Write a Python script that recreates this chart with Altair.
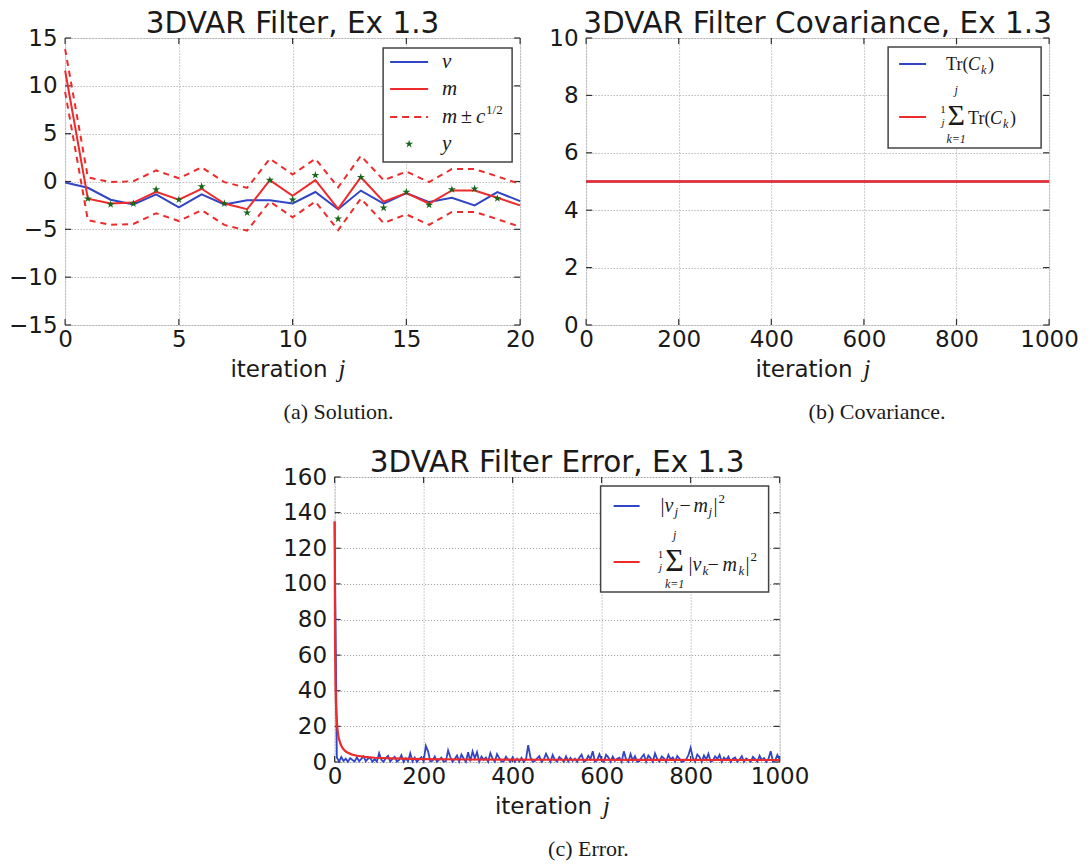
import altair as alt
import pandas as pd

# ------------------------------------------------------------------
# Data
# ------------------------------------------------------------------
# (a) Solution
sol_iter = list(range(21))
sol_truth = [-0.1, -0.66, -1.9, -2.4, -1.35, -2.7, -1.35, -2.4, -1.95, -1.95, -2.3,
             -1.1, -2.9, -0.95, -2.3, -1.2, -2.15, -1.7, -2.5, -1.1, -2.05]
sol_mean = [11.6, -1.8, -2.3, -2.2, -1.08, -1.9, -0.76, -2.3, -2.9, 0.14, -1.5,
            0.14, -2.85, 0.45, -2.1, -1.2, -2.3, -0.94, -0.94, -1.7, -2.5]
obs_iter = list(range(1, 20))
obs_vals = [-1.8, -2.4, -2.3, -0.83, -1.9, -0.52, -2.3, -3.26, 0.14, -1.9,
            0.66, -3.9, 0.45, -2.75, -1.1, -2.45, -0.83, -0.76, -1.77]
cov_level = 5.0  # c

# (b) Covariance
cov_iter = [0, 1000]
cov_trace = [5.0, 5.0]
cov_avg = [5.0, 5.0]

# (c) Error
err_iter = list(range(0, 1001, 5))
err_vals = [
    135, 2.5, 0.2, 2.8, 0.6, 1.9, 0.1, 2.2, 1.1, 0.3, 2.6, 0.4, 1.7, 3.1, 0.5, 1.8, 2.4, 0.2, 1.6, 0.2,
    5.0, 1.3, 0.1, 2.2, 3.4, 0.3, 1.7, 2.9, 0.2, 1.2, 3.8, 0.1, 2.1, 0.4, 4.8, 0.3, 2.5, 0.1, 1.6, 2.7,
    0.3, 9.0, 6.0, 0.3, 0.7, 3.1, 0.2, 1.4, 2.4, 0.2, 0.5, 6.5, 2.8, 0.1, 1.7, 3.6, 0.2, 4.2, 2.0, 0.1,
    5.5, 0.4, 6.0, 2.1, 5.5, 0.2, 3.0, 1.2, 2.5, 0.1, 5.0, 1.9, 0.2, 4.5, 2.2, 0.3, 0.4, 3.0, 1.3, 0.1,
    2.6, 0.1, 1.8, 0.3, 2.4, 0.1, 1.5, 9.5, 2.7, 0.2, 0.6, 2.0, 3.3, 0.1, 1.4, 4.6, 2.1, 0.1, 3.9, 1.2,
    0.2, 2.8, 1.6, 0.1, 3.2, 0.3, 2.3, 0.6, 1.9, 0.1, 2.5, 4.1, 0.2, 0.8, 3.5, 1.7, 6.0, 0.2, 0.9, 4.4,
    1.3, 0.1, 4.0, 2.6, 0.2, 3.0, 0.7, 1.8, 2.4, 0.1, 6.0, 1.5, 0.2, 4.5, 0.8, 3.3, 0.1, 0.6, 2.7, 4.2,
    0.2, 3.6, 2.2, 0.1, 4.8, 1.6, 0.2, 3.1, 2.0, 0.1, 4.0, 1.4, 2.6, 0.2, 3.4, 1.8, 0.1, 0.6, 1.5, 3.8,
    8.0, 2.4, 0.2, 4.2, 2.8, 0.1, 3.7, 1.3, 4.6, 0.2, 0.8, 3.2, 1.6, 4.0, 0.1, 2.5, 1.1, 3.0, 0.1, 1.9,
    2.6, 0.2, 1.4, 3.3, 0.1, 2.0, 1.2, 0.1, 2.9, 1.6, 0.2, 3.5, 1.0, 2.2, 0.1, 1.8, 6.0, 0.2, 0.9, 4.0,
    1.5,
]
avg_iter = [0, 1, 2, 3, 4, 6, 8, 10, 13, 16, 20, 25, 30, 38, 50, 68, 90, 128, 200, 300, 500, 700, 1000]
avg_vals = [135, 66, 44, 33, 27, 19.5, 15.3, 12.7, 10.2, 8.6, 7.1, 5.9, 5.2, 4.3, 3.5, 2.9, 2.4,
            2.0, 1.6, 1.4, 1.25, 1.18, 1.12]

# tick values
a_xticks = [0, 5, 10, 15, 20]
a_yticks = [-15, -10, -5, 0, 5, 10, 15]
b_xticks = [0, 200, 400, 600, 800, 1000]
b_yticks = [0, 2, 4, 6, 8, 10]
c_xticks = [0, 200, 400, 600, 800, 1000]
c_yticks = [0, 20, 40, 60, 80, 100, 120, 140, 160]

# ------------------------------------------------------------------
# Style
# ------------------------------------------------------------------
BLUE = "#3145c6"
RED = "#ee2b2b"
GREEN = "#17661a"
FRAME = "#333333"
TXT = "#1a1a1a"
SANS = "DejaVu Sans"
SERIF = "Liberation Serif"
TICK_FS = 23
TITLE_FS = 29.5
STAR = ("M0,-1L0.2245,-0.309L0.951,-0.309L0.363,0.118L0.588,0.809L0,0.382"
        "L-0.588,0.809L-0.363,0.118L-0.951,-0.309L-0.2245,-0.309Z")

ONE = pd.DataFrame({"k": [0]})


def text(s, x, y, size, font=SERIF, style="normal", align="left", baseline="middle", color=TXT):
    return alt.Chart(ONE).mark_text(
        text=s, font=font, fontSize=size, fontStyle=style, align=align,
        baseline=baseline, color=color
    ).encode(x=alt.value(x), y=alt.value(y))


def box(x0, x1, y0, y1):
    return alt.Chart(ONE).mark_rect(fill="white", stroke="#444444", strokeWidth=1.5).encode(
        x=alt.value(x0), x2=alt.value(x1), y=alt.value(y0), y2=alt.value(y1))


def swatch(x0, x1, y, color, dash=None, width=2):
    kw = dict(color=color, strokeWidth=width)
    if dash:
        kw["strokeDash"] = dash
    return alt.Chart(ONE).mark_rule(**kw).encode(x=alt.value(x0), x2=alt.value(x1), y=alt.value(y))


def make_axis(vals, pad):
    return alt.Axis(values=vals, title=None, grid=True, ticks=False, domain=False,
                    labelFont=SANS, labelFontSize=TICK_FS, labelColor=TXT, labelPadding=pad,
                    labelFlush=False, labelOverlap=False, gridColor="#9a9a9a",
                    gridDash=[1, 2], gridWidth=1, format="d")


class Panel:
    def __init__(self, xdom, ydom, xticks, yticks, W, H):
        self.xs = alt.Scale(domain=xdom, nice=False)
        self.ys = alt.Scale(domain=ydom, nice=False)
        self.xticks, self.yticks = xticks, yticks
        self.W, self.H = W, H

    def X(self, f):
        return alt.X(f, scale=self.xs, axis=make_axis(self.xticks, 3))

    def Y(self, f):
        return alt.Y(f, scale=self.ys, axis=make_axis(self.yticks, 8))

    def inner_ticks(self, L=6):
        xt = alt.Chart(pd.DataFrame({"t": self.xticks}))
        yt = alt.Chart(pd.DataFrame({"t": self.yticks}))
        kw = dict(color=FRAME, strokeWidth=1.2)
        W, H = self.W, self.H
        return [
            xt.mark_rule(**kw).encode(x=self.X("t:Q"), y=alt.value(H), y2=alt.value(H - L)),
            xt.mark_rule(**kw).encode(x=self.X("t:Q"), y=alt.value(0), y2=alt.value(L)),
            yt.mark_rule(**kw).encode(y=self.Y("t:Q"), x=alt.value(0), x2=alt.value(L)),
            yt.mark_rule(**kw).encode(y=self.Y("t:Q"), x=alt.value(W - L), x2=alt.value(W)),
        ]

    def xlabel_and_caption(self, caption):
        cx, H = self.W / 2, self.H
        return [
            text("iteration", cx + 35, H + 52, 23, font=SANS, align="right", baseline="alphabetic"),
            text("j", cx + 46, H + 52, 25, style="italic", baseline="alphabetic"),
            text(caption, cx - 9, H + 94, 22, baseline="alphabetic"),
        ]


def title(s):
    return alt.Title(s, font=SANS, fontSize=TITLE_FS, fontWeight="normal", color=TXT,
                     anchor="middle", baseline="alphabetic", offset=7, dy=42, frame="group")


def sigma_block(cx, cy, frac_x, size):
    """Big summation sign with limits and a small 1/j fraction in front."""
    return [
        text("1", frac_x, cy - 6, 11, align="center"),
        text("j", frac_x, cy + 7, 11, style="italic", align="center"),
        text("\u03a3", cx, cy, size, align="center"),
        text("j", cx, cy - 26, 12, style="italic", align="center"),
        text("k=1", cx, cy + 23, 12, style="italic", align="center"),
    ]


# ------------------------------------------------------------------
# Panel (a)
# ------------------------------------------------------------------
pa = Panel([0, 20], [-15, 15], a_xticks, a_yticks, 455, 287)
c_half = cov_level ** 0.5
sol_df = pd.DataFrame({
    "j": sol_iter, "v": sol_truth, "m": sol_mean,
    "up": [m + c_half for m in sol_mean], "lo": [m - c_half for m in sol_mean],
})
obs_df = pd.DataFrame({"j": obs_iter, "y": obs_vals})
sb = alt.Chart(sol_df)
a_layers = pa.inner_ticks() + [
    sb.mark_line(color=BLUE, strokeWidth=2).encode(x=pa.X("j:Q"), y=pa.Y("v:Q")),
    sb.mark_line(color=RED, strokeWidth=2).encode(x=pa.X("j:Q"), y=pa.Y("m:Q")),
    sb.mark_line(color=RED, strokeWidth=2, strokeDash=[6, 5]).encode(x=pa.X("j:Q"), y=pa.Y("up:Q")),
    sb.mark_line(color=RED, strokeWidth=2, strokeDash=[6, 5]).encode(x=pa.X("j:Q"), y=pa.Y("lo:Q")),
    alt.Chart(obs_df).mark_point(shape=STAR, filled=True, color=GREEN, size=70, opacity=1).encode(
        x=pa.X("j:Q"), y=pa.Y("y:Q")),
]
a_layers += [
    box(318, 447, 10, 124),
    swatch(325, 363, 24, BLUE),
    swatch(325, 363, 51, RED),
    swatch(325, 363, 79, RED, dash=[7, 5]),
    alt.Chart(ONE).mark_point(shape=STAR, filled=True, color=GREEN, size=70, opacity=1).encode(
        x=alt.value(344), y=alt.value(106)),
    text("v", 377, 24, 21, style="italic"),
    text("m", 377, 51, 21, style="italic"),
    text("m", 377, 79, 21, style="italic"),
    text("\u00b1", 396, 79, 20),
    text("c", 411, 79, 21, style="italic"),
    text("1/2", 421, 72, 13),
    text("y", 377, 106, 21, style="italic"),
]
a_layers += pa.xlabel_and_caption("(a)  Solution.")
panel_a = alt.layer(*a_layers).properties(width=pa.W, height=pa.H,
                                          title=title("3DVAR Filter, Ex 1.3"))

# ------------------------------------------------------------------
# Panel (b)
# ------------------------------------------------------------------
pb = Panel([0, 1000], [0, 10], b_xticks, b_yticks, 463, 287)
cov_df = pd.DataFrame({"j": cov_iter, "tr": cov_trace, "avg": cov_avg})
cb = alt.Chart(cov_df)
b_layers = pb.inner_ticks() + [
    cb.mark_line(color=BLUE, strokeWidth=2).encode(x=pb.X("j:Q"), y=pb.Y("tr:Q")),
    cb.mark_line(color=RED, strokeWidth=2.4).encode(x=pb.X("j:Q"), y=pb.Y("avg:Q")),
]
b_layers += [
    box(302, 455, 9, 110),
    swatch(313, 340, 26, BLUE),
    swatch(313, 340, 79, RED),
    text("Tr(", 360, 27, 18),
    text("C", 382, 27, 18, style="italic"),
    text("k", 395, 32, 12, style="italic"),
    text(")", 402, 27, 18),
]
b_layers += sigma_block(370, 78, 357, 30)
b_layers += [
    text("Tr(", 382, 81, 18),
    text("C", 404, 81, 18, style="italic"),
    text("k", 417, 86, 12, style="italic"),
    text(")", 424, 81, 18),
]
b_layers += pb.xlabel_and_caption("(b)  Covariance.")
panel_b = alt.layer(*b_layers).properties(width=pb.W, height=pb.H,
                                          title=title("3DVAR Filter Covariance, Ex 1.3"))

# ------------------------------------------------------------------
# Panel (c)
# ------------------------------------------------------------------
pc = Panel([0, 1000], [0, 160], c_xticks, c_yticks, 445, 285)
err_df = pd.DataFrame({"j": err_iter, "e": err_vals})
avg_df = pd.DataFrame({"j": avg_iter, "a": avg_vals})
c_layers = pc.inner_ticks() + [
    alt.Chart(err_df).mark_line(color=BLUE, strokeWidth=1.8).encode(x=pc.X("j:Q"), y=pc.Y("e:Q")),
    alt.Chart(avg_df).mark_line(color=RED, strokeWidth=2.2).encode(x=pc.X("j:Q"), y=pc.Y("a:Q")),
]
c_layers += [
    box(266, 434, 9, 115),
    swatch(279, 305, 29, BLUE),
    swatch(279, 305, 85, RED),
    text("|", 326, 29, 20),
    text("v", 330, 29, 20, style="italic"),
    text("j", 340, 35, 13, style="italic"),
    text("\u2212", 345, 29, 20),
    text("m", 359, 29, 20, style="italic"),
    text("j", 374, 35, 13, style="italic"),
    text("|", 379, 29, 20),
    text("2", 384, 22, 13),
]
c_layers += sigma_block(340, 84, 326, 32)
c_layers += [
    text("|", 354, 88, 20),
    text("v", 358, 88, 20, style="italic"),
    text("k", 368, 94, 13, style="italic"),
    text("\u2212", 373, 88, 20),
    text("m", 388, 88, 20, style="italic"),
    text("k", 404, 94, 13, style="italic"),
    text("|", 411, 88, 20),
    text("2", 416, 80, 13),
]
c_layers += pc.xlabel_and_caption("(c)  Error.")
panel_c = alt.layer(*c_layers).properties(width=pc.W, height=pc.H,
                                          title=title("3DVAR Filter Error, Ex 1.3"))

# ------------------------------------------------------------------
# Layout
# ------------------------------------------------------------------
top = alt.hconcat(panel_a, panel_b, spacing=12)
chart = alt.vconcat(top, panel_c, spacing=23, center=True).properties(
    padding={"left": 8, "top": 8, "right": 5, "bottom": 5}
).configure_view(stroke=FRAME, strokeWidth=1.5).configure(background="white")

chart.save("out.html", embed_options={"renderer": "svg", "actions": False})
